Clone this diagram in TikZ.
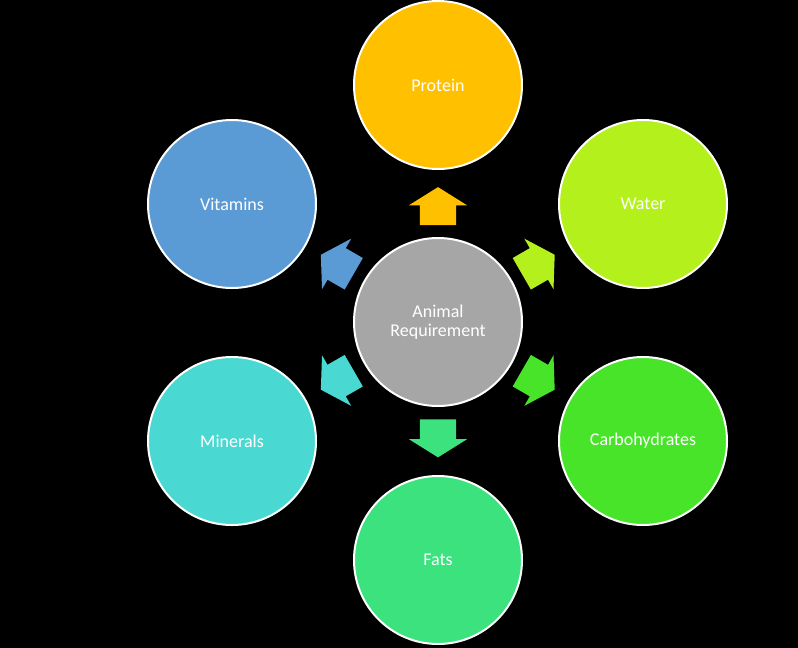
\documentclass[tikz,border=0pt]{standalone}
\usepackage{fontspec}
\setmainfont{Carlito}
\usetikzlibrary{shapes.arrows,calc}
\definecolor{cProtein}{HTML}{FFC000}
\definecolor{cWater}{HTML}{B4F01C}
\definecolor{cCarb}{HTML}{47E42A}
\definecolor{cFats}{HTML}{3BE27E}
\definecolor{cMin}{HTML}{49D9D2}
\definecolor{cVit}{HTML}{5B9BD5}
\definecolor{cCenter}{HTML}{A6A6A6}
\tikzset{
  bubble/.style={circle, draw=white, line width=2pt, minimum size=168pt, inner sep=0pt,
    text=white, font=\fontsize{18}{21}\selectfont, align=center},
  blockarrow/.style={single arrow, draw=none, minimum height=38pt,
    single arrow head extend=11pt, single arrow tip angle=116, inner sep=0pt}
}
\newcommand{\shaftbox}{\rule{0pt}{36pt}}
\begin{document}
\begin{tikzpicture}[x=1pt,y=-1pt]
\fill[black] (0,0) rectangle (798,648);
\useasboundingbox (0,0) rectangle (798,648);
\node[bubble, fill=cCenter] (c) at (438,322) {Animal\\[-2pt]Requirement};
\node[bubble, fill=cProtein] (p) at (438,85) {Protein};
\node[bubble, fill=cWater] (w) at (643,204) {Water};
\node[bubble, fill=cCarb] (cb) at (643,441) {Carbohydrates};
\node[bubble, fill=cFats] (f) at (438,560) {Fats};
\node[bubble, fill=cMin] (m) at (232,441) {Minerals};
\node[bubble, fill=cVit] (v) at (232,204) {Vitamins};
\node[blockarrow, fill=cProtein, rotate=90] (ap) at ($(c)!0.465!(p)$) {\shaftbox};
\node[blockarrow, fill=cWater, rotate=30] (aw) at ($(c)!0.465!(w)$) {\shaftbox};
\node[blockarrow, fill=cCarb, rotate=-30] (acb) at ($(c)!0.465!(cb)$) {\shaftbox};
\node[blockarrow, fill=cFats, rotate=-90] (af) at ($(c)!0.465!(f)$) {\shaftbox};
\node[blockarrow, fill=cMin, rotate=-150] (am) at ($(c)!0.465!(m)$) {\shaftbox};
\node[blockarrow, fill=cVit, rotate=150] (av) at ($(c)!0.465!(v)$) {\shaftbox};
\end{tikzpicture}
\end{document}
